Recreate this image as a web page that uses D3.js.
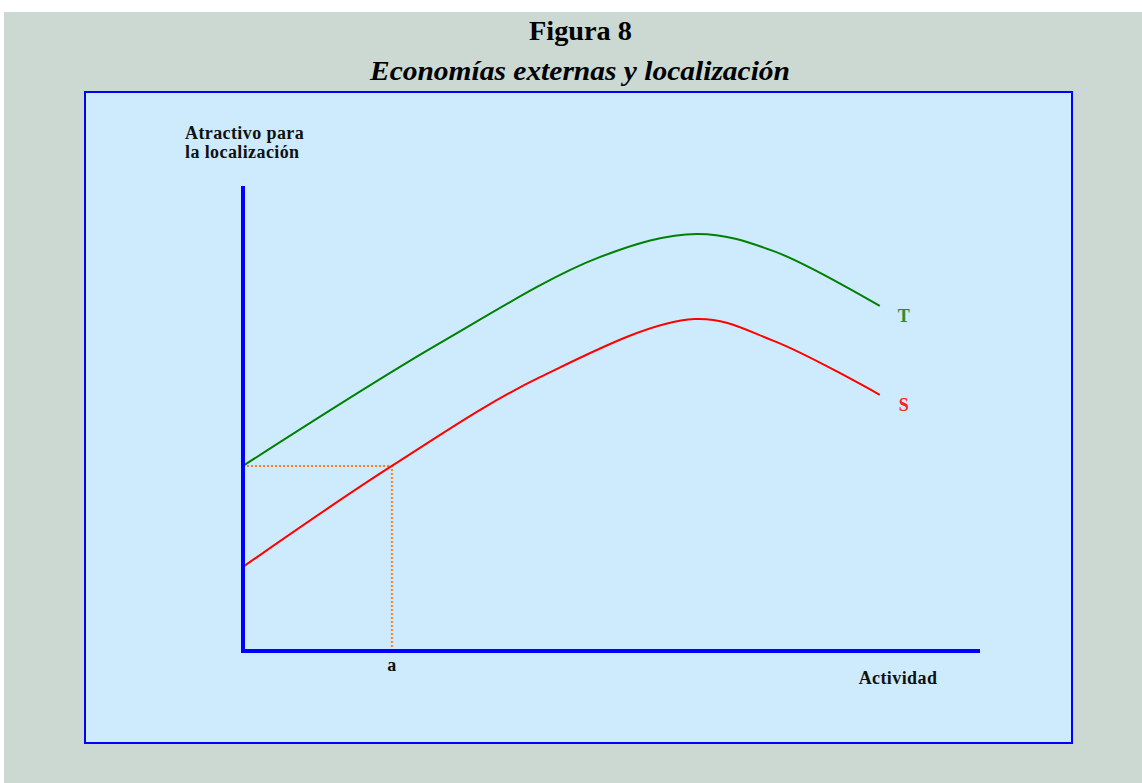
<!DOCTYPE html>
<html><head><meta charset="utf-8">
<script src="https://cdn.jsdelivr.net/npm/d3@7"></script>
<style>
html,body{margin:0;padding:0;background:#fff;}
svg{display:block;}
</style></head>
<body>
<svg id="c" width="1142" height="783"></svg>
<script>
// Data (abstract units: activity 0..100, attractiveness 0..100)
const seriesNames = ["T", "S"];
const tActivity = [0, 26.7, 48.4, 61.6, 72.0, 86.4];
const tValues   = [39.8, 66.2, 84.7, 89.7, 86.0, 74.2];
const sActivity = [0, 20.2, 40.3, 61.3, 72.0, 86.4];
const sValues   = [18.1, 39.8, 58.9, 71.4, 66.7, 55.1];
const markerA = {activity: 20.2, value: 39.8, label: "a"};
const title = "Figura 8";
const subtitle = "Economías externas y localización";
const yLabel = ["Atractivo para", "la localización"];
const xLabel = "Actividad";

const svg = d3.select("#c");
svg.append("rect").attr("x",4).attr("y",12).attr("width",1138).attr("height",771).attr("fill","#cbd9d2");
svg.append("rect").attr("x",85).attr("y",92).attr("width",987).attr("height",651)
  .attr("fill","#cdebfd").attr("stroke","#0000ff").attr("stroke-width",2);

svg.append("text").attr("x",580.5).attr("y",40).attr("text-anchor","middle")
  .attr("font-family","Liberation Serif").attr("font-weight","bold").attr("font-size",28)
  .attr("textLength",103).attr("lengthAdjust","spacingAndGlyphs").text(title);
svg.append("text").attr("x",580).attr("y",80).attr("text-anchor","middle")
  .attr("font-family","Liberation Serif").attr("font-weight","bold").attr("font-style","italic").attr("font-size",28)
  .attr("textLength",420).attr("lengthAdjust","spacingAndGlyphs").text(subtitle);

const x = d3.scaleLinear().domain([0,100]).range([243,980]);
const y = d3.scaleLinear().domain([0,100]).range([651,186]);

// dotted guides
svg.append("path")
  .attr("d", `M${x(0)},${y(markerA.value)}H${x(markerA.activity)}V${y(0)}`)
  .attr("fill","none").attr("stroke","#ff7f1a").attr("stroke-width",2).attr("stroke-dasharray","2,2");

const line = d3.line().x(d=>x(d[0])).y(d=>y(d[1])).curve(d3.curveCatmullRom.alpha(0.5));
const T = tActivity.map((a,i)=>[a,tValues[i]]);
const S = sActivity.map((a,i)=>[a,sValues[i]]);
svg.append("path").attr("d",line(T)).attr("fill","none").attr("stroke","#008000").attr("stroke-width",2);
svg.append("path").attr("d",line(S)).attr("fill","none").attr("stroke","#ff0000").attr("stroke-width",2);

// axes
svg.append("line").attr("x1",x(0)).attr("x2",x(0)).attr("y1",y(100)).attr("y2",y(0)+2)
  .attr("stroke","#0000ff").attr("stroke-width",4);
svg.append("line").attr("x1",x(0)-2).attr("x2",x(100)).attr("y1",y(0)).attr("y2",y(0))
  .attr("stroke","#0000ff").attr("stroke-width",4);

const f = "Liberation Serif";
function lab(t, xx, yy, anchor, fill){
  return svg.append("text").attr("x",xx).attr("y",yy).attr("text-anchor",anchor)
    .attr("font-family",f).attr("font-weight","bold").attr("font-size",18)
    .attr("letter-spacing","0.4px").attr("fill",fill||"#111").text(t);
}
lab(markerA.label, x(markerA.activity), 671, "middle");
lab(xLabel, 898, 684, "middle");
yLabel.forEach((t,i)=>lab(t, 185, 139+i*19, "start"));
lab(seriesNames[0], 904, 322, "middle", "#2e8b2e");
lab(seriesNames[1], 904, 411, "middle", "#ff2020");
</script>
</body></html>
